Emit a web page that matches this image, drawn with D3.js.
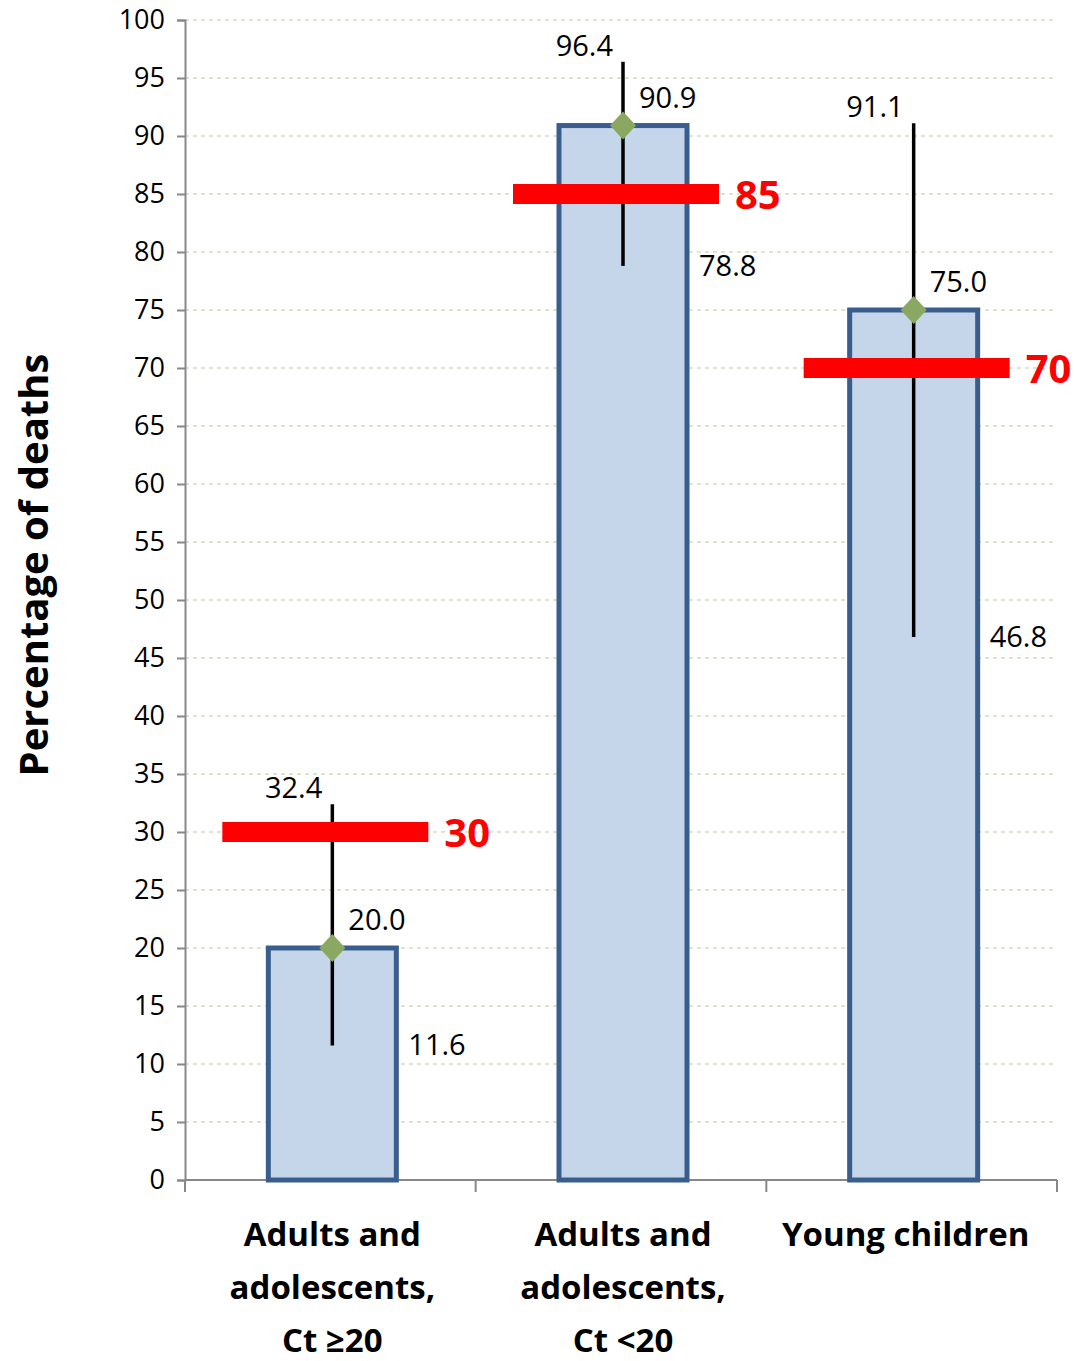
<!DOCTYPE html>
<html><head><meta charset="utf-8">
<script src="https://cdn.jsdelivr.net/npm/d3@7"></script>
<style>body{margin:0;background:#fff}</style></head>
<body><svg id="c" width="1083" height="1361"></svg>
<script>
const categories = [["Adults and","adolescents,","Ct \u226520"],["Adults and","adolescents,","Ct <20"],["Young children"]];
const values = [20.0, 90.9, 75.0];
const upper = [32.4, 96.4, 91.1];
const lower = [11.6, 78.8, 46.8];
const targets = [30, 85, 70];
const yTicks = d3.range(0, 101, 5);

const svg = d3.select("#c");
const font = "Open Sans, sans-serif";
const y = d3.scaleLinear().domain([0,100]).range([1180,20]);
const x = d3.scaleBand().domain([0,1,2]).range([185,1057]);
const cx = i => x(i) + x.bandwidth()/2 + 2;

svg.append("g").selectAll("line").data(yTicks.filter(d=>d>0)).join("line")
 .attr("x1",185).attr("x2",1057).attr("y1",d=>y(d)).attr("y2",d=>y(d))
 .attr("stroke","#d8dcc0").attr("stroke-width",1.5).attr("stroke-dasharray","4,4");

const ya = svg.append("g").attr("transform","translate(185,0)").call(d3.axisLeft(y).tickValues(yTicks).tickSize(8).tickPadding(12));
ya.select(".domain").attr("stroke","#888").attr("stroke-width",2);
ya.selectAll(".tick line").attr("stroke","#888").attr("stroke-width",2);
ya.selectAll("text").attr("font-family",font).attr("font-size",27).attr("fill","#000");

svg.append("line").attr("x1",185).attr("x2",1057).attr("y1",1180).attr("y2",1180).attr("stroke","#888").attr("stroke-width",2);
svg.append("g").selectAll("line").data([0,1,2,3]).join("line")
 .attr("x1",d=>185+d*x.bandwidth()).attr("x2",d=>185+d*x.bandwidth()).attr("y1",1180).attr("y2",1192)
 .attr("stroke","#888").attr("stroke-width",2);

const bw = 128;
svg.append("g").selectAll("rect").data(values).join("rect")
 .attr("x",(d,i)=>cx(i)-bw/2).attr("width",bw)
 .attr("y",d=>y(d)).attr("height",d=>y(0)-y(d))
 .attr("fill","#c6d6ea").attr("stroke","#395e8d").attr("stroke-width",5);

svg.append("g").selectAll("line").data(values).join("line")
 .attr("x1",(d,i)=>cx(i)).attr("x2",(d,i)=>cx(i))
 .attr("y1",(d,i)=>y(lower[i])).attr("y2",(d,i)=>y(upper[i]))
 .attr("stroke","#000").attr("stroke-width",3.5);

svg.append("g").selectAll("path").data(values).join("path")
 .attr("d",(d,i)=>{const px=cx(i),py=y(d);return `M${px},${py-14}L${px+13},${py}L${px},${py+14}L${px-13},${py}Z`;})
 .attr("fill","#8aa861");

svg.append("g").selectAll("rect").data(targets).join("rect")
 .attr("x",(d,i)=>cx(i)-110).attr("width",206)
 .attr("y",d=>y(d)-10).attr("height",20).attr("fill","#ff0000");
svg.append("g").selectAll("text").data(targets).join("text")
 .attr("x",(d,i)=>cx(i)+112).attr("y",d=>y(d)+15).text(d=>d)
 .attr("font-family",font).attr("font-weight","bold").attr("font-size",40).attr("fill","#ff0000");

const lab = (arr, dx, dy, anchor) => svg.append("g").selectAll("text").data(arr).join("text")
 .attr("x",(d,i)=>cx(i)+dx).attr("y",d=>y(d)+dy).attr("text-anchor",anchor).text(d=>d.toFixed(1))
 .attr("font-family",font).attr("font-size",29).attr("fill","#000");
lab(upper, -10, -6, "end");
lab(values, 16, -18, "start");
lab(lower, bw/2+12, 10, "start");

categories.forEach((lines,i)=>{
 lines.forEach((t,j)=>svg.append("text").attr("x",cx(i)-(i==2?8:0)).attr("y",1246+j*53).attr("text-anchor","middle")
  .text(t).attr("font-family",font).attr("font-weight","bold").attr("font-size",33).attr("fill","#000"));
});

svg.append("text").attr("transform","translate(48,565) rotate(-90)").attr("text-anchor","middle")
 .text("Percentage of deaths").attr("font-family",font).attr("font-weight","bold").attr("font-size",40).attr("fill","#000");
</script></body></html>
